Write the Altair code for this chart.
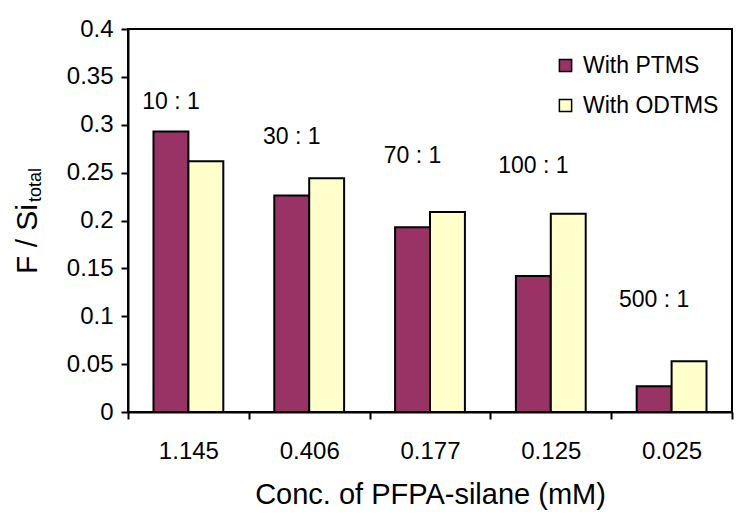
import altair as alt
import pandas as pd

concs = ["1.145", "0.406", "0.177", "0.125", "0.025"]
series = ["With PTMS", "With ODTMS"]
ptms = [0.293, 0.226, 0.193, 0.142, 0.027]
odtms = [0.262, 0.244, 0.209, 0.207, 0.053]
ratios = ["10 : 1", "30 : 1", "70 : 1", "100 : 1", "500 : 1"]
ratio_y = [0.324, 0.287, 0.267, 0.257, 0.117]
y_ticks = [0, 0.05, 0.1, 0.15, 0.2, 0.25, 0.3, 0.35, 0.4]
colors = ["#993366", "#FFFFCC"]

rows = []
for c, a, b in zip(concs, ptms, odtms):
    rows.append({"conc": c, "series": series[0], "value": a})
    rows.append({"conc": c, "series": series[1], "value": b})
df = pd.DataFrame(rows)

lab = pd.DataFrame({"conc": concs, "series": [series[0]] * 5, "ratio": ratios, "y": ratio_y})

FONT = "Liberation Sans"

x_enc = alt.X(
    "conc:N", sort=concs,
    scale=alt.Scale(paddingInner=0, paddingOuter=0),
    axis=alt.Axis(title="Conc. of PFPA-silane (mM)", labelAngle=0, tickBand="extent",
                  labelFontSize=24, titleFontSize=29, labelPadding=20, titlePadding=17,
                  titleFontWeight="normal"),
)
xoff = alt.XOffset("series:N", sort=series, scale=alt.Scale(paddingOuter=0.73, paddingInner=0))
y_scale = alt.Scale(domain=[0, 0.4], nice=False)

bars = alt.Chart(df).mark_bar(stroke="black", strokeWidth=2).encode(
    x=x_enc,
    xOffset=xoff,
    y=alt.Y("value:Q", scale=y_scale,
            axis=alt.Axis(title=None, values=y_ticks, format=".2~f", labelFontSize=24,
                          labelPadding=8)),
    color=alt.Color("series:N", sort=series,
                    scale=alt.Scale(domain=series, range=colors),
                    legend=alt.Legend(title=None, orient="none", legendX=426, legendY=25,
                                      symbolType="square", symbolSize=150,
                                      symbolStrokeColor="black", symbolStrokeWidth=1.5,
                                      labelFontSize=23, rowPadding=16, labelOffset=6)),
)

labels = alt.Chart(lab).mark_text(fontSize=23, font=FONT, color="black", baseline="middle").encode(
    x=alt.X("conc:N", sort=concs),
    xOffset=alt.XOffset("series:N", sort=series),
    y=alt.Y("y:Q", scale=y_scale),
    text="ratio:N",
)

t1 = alt.Chart(pd.DataFrame({"t": ["F / Si"]})).mark_text(
    angle=270, align="left", baseline="alphabetic", fontSize=30, font=FONT, color="black"
).encode(x=alt.value(-91), y=alt.value(245), text="t:N")
t2 = alt.Chart(pd.DataFrame({"t": ["total"]})).mark_text(
    angle=270, align="left", baseline="alphabetic", fontSize=18, font=FONT, color="black"
).encode(x=alt.value(-87), y=alt.value(173), text="t:N")

chart = alt.layer(bars, labels, t1, t2).properties(
    width=604, height=383,
    autosize=alt.AutoSizeParams(type="none"),
    padding={"left": 120, "top": 21, "right": 10, "bottom": 100},
).configure(font=FONT).configure_view(
    stroke="black", strokeWidth=2
).configure_axis(
    grid=False, domainColor="black", domainWidth=2, tickColor="black", tickWidth=2,
    tickSize=7, labelColor="black", titleColor="black", labelFont=FONT, titleFont=FONT
).configure_legend(labelFont=FONT, labelColor="black")

chart.save("out.html", embed_options={"renderer": "svg", "actions": False})
